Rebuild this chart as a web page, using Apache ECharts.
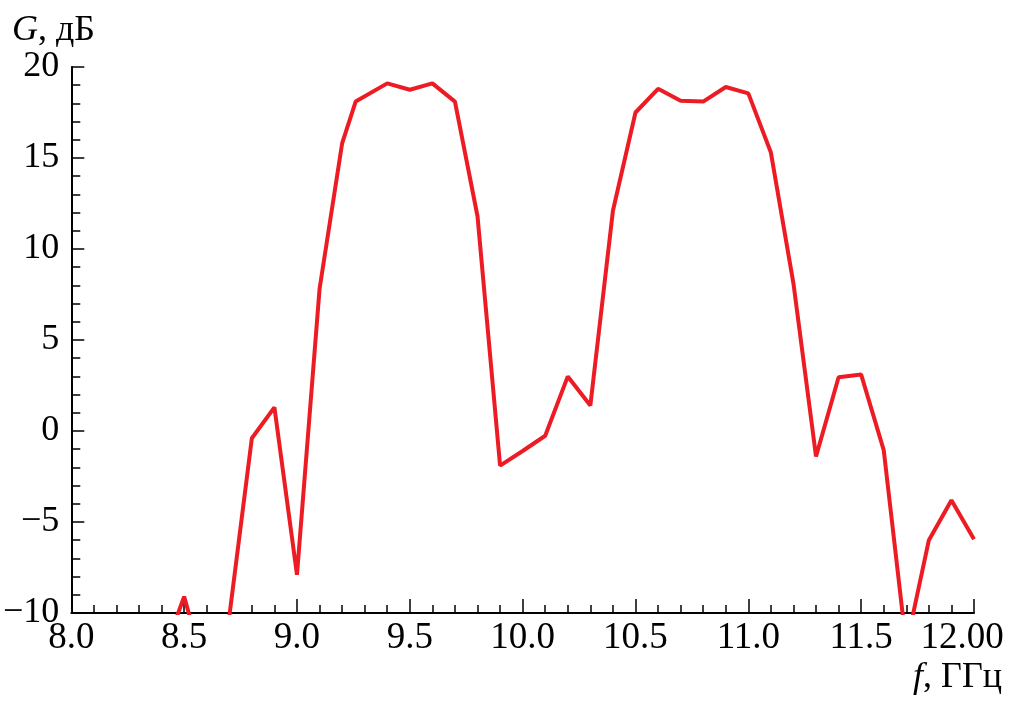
<!DOCTYPE html>
<html>
<head>
<meta charset="utf-8">
<script src="https://cdn.jsdelivr.net/npm/echarts@6/dist/echarts.min.js"></script>
<style>
html,body{margin:0;padding:0;background:#fff;}
#chart{width:1011px;height:705px;}
</style>
</head>
<body>
<div id="chart"></div>
<script>
// Frequency, GHz
const freq = [8.4, 8.5, 8.6, 8.7, 8.8, 8.9, 9.0, 9.1, 9.2, 9.26, 9.4, 9.5, 9.6, 9.7, 9.8, 9.9,
  10.0, 10.1, 10.2, 10.3, 10.4, 10.5, 10.6, 10.7, 10.8, 10.9, 11.0, 11.1, 11.2, 11.3, 11.4,
  11.5, 11.6, 11.7, 11.8, 11.9, 12.0];
// Gain, dB
const gain = [-12.5, -9.1, -13.5, -10.2, -0.4, 1.3, -7.9, 7.8, 15.8, 18.1, 19.1, 18.75, 19.1, 18.1, 11.8, -1.9,
  -1.1, -0.26, 3.0, 1.4, 12.1, 17.5, 18.8, 18.15, 18.1, 18.9, 18.55, 15.3, 8.1, -1.4, 2.95,
  3.1, -1.05, -11.8, -6.0, -3.8, -5.95];

const xMin = 8, xMax = 12, xStep = 0.5;
const yMin = -10, yMax = 20, yStep = 5;

const FONT = '"Liberation Serif", "DejaVu Serif", serif';
const chart = echarts.init(document.getElementById('chart'), null, {renderer: 'canvas'});

const points = freq.map((f, i) => [f, gain[i]]);

chart.setOption({
  animation: false,
  backgroundColor: '#fff',
  grid: {left: 68, right: 37, top: 67, bottom: 92, containLabel: false},
  xAxis: {
    type: 'value', min: xMin, max: xMax, interval: xStep,
    axisLine: {show: true, onZero: false, lineStyle: {color: '#000', width: 2}},
    axisTick: {show: true, inside: true, length: 14, lineStyle: {color: '#000', width: 1.5}},
    minorTick: {show: true, splitNumber: 5, length: 8, lineStyle: {color: '#000', width: 1.5}},
    splitLine: {show: false},
    axisLabel: {
      color: '#000', fontFamily: FONT, fontSize: 37, margin: 7,
      formatter: v => v === xMax ? '{e|12.00}' : v.toFixed(1),
      rich: {e: {color: '#000', fontFamily: FONT, fontSize: 37, padding: [0, 24, 0, 0]}}
    }
  },
  yAxis: {
    type: 'value', min: yMin, max: yMax, interval: yStep,
    axisLine: {show: true, onZero: false, lineStyle: {color: '#000', width: 2}},
    axisTick: {show: true, inside: true, length: 13, lineStyle: {color: '#000', width: 1.5}},
    minorTick: {show: true, splitNumber: 5, length: 9, lineStyle: {color: '#000', width: 1.5}},
    splitLine: {show: false},
    axisLabel: {
      color: '#000', fontFamily: FONT, fontSize: 36, margin: 12,
      formatter: v => v < 0 ? '\u2212' + Math.abs(v) : String(v)
    }
  },
  graphic: [
    {
      type: 'text', left: 12, top: 13,
      style: {
        text: '{i|G}{n|, дБ}',
        rich: {
          i: {fontFamily: FONT, fontSize: 36, fontStyle: 'italic', fill: '#000'},
          n: {fontFamily: FONT, fontSize: 36, fill: '#000'}
        }
      }
    },
    {
      type: 'text', right: 9, top: 660,
      style: {
        text: '{i|f}{n|, ГГц}',
        rich: {
          i: {fontFamily: FONT, fontSize: 36, fontStyle: 'italic', fill: '#000'},
          n: {fontFamily: FONT, fontSize: 36, fill: '#000'}
        }
      }
    }
  ],
  series: [{
    type: 'line',
    data: points,
    showSymbol: false,
    clip: true,
    lineStyle: {color: '#ED1C24', width: 4},
    itemStyle: {color: '#ED1C24'}
  }]
});
</script>
</body>
</html>
